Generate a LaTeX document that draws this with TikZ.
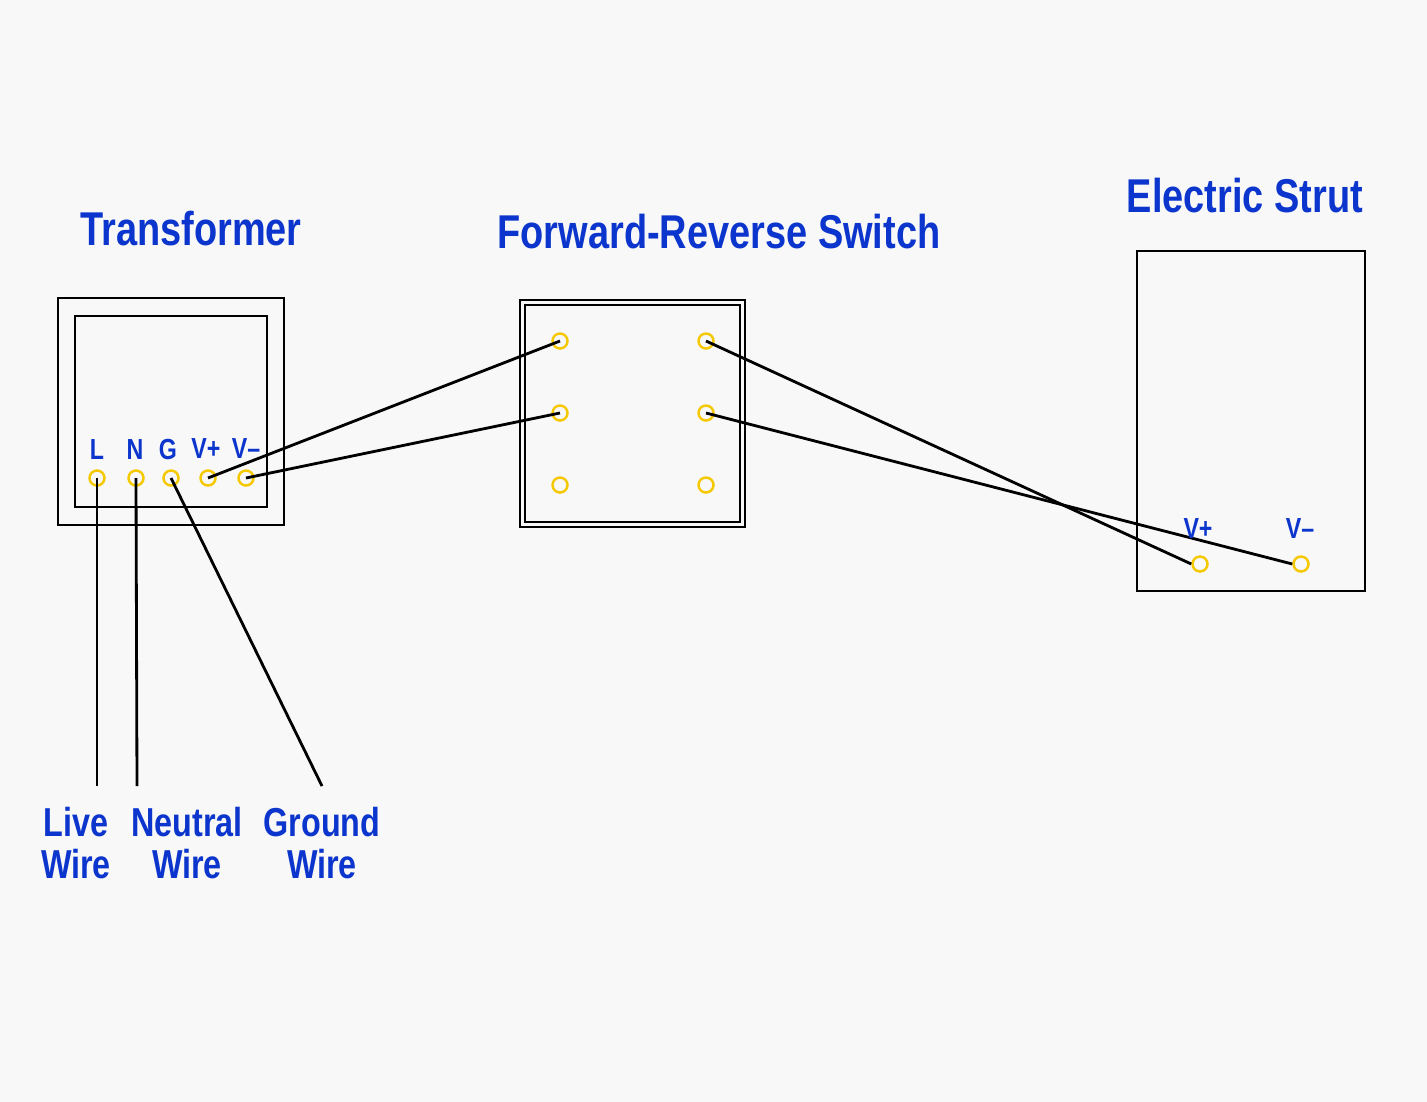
\documentclass[tikz,border=0pt]{standalone}
\usepackage{fontspec}
\setmainfont[FakeStretch=0.8]{Liberation Sans}
\usetikzlibrary{positioning}
\definecolor{wirelabel}{HTML}{0B35CC}
\definecolor{terminal}{HTML}{F5C800}
\definecolor{paper}{HTML}{F8F8F8}

\begin{document}
\begin{tikzpicture}[
    x=0.02cm, y=-0.02cm,
    box/.style={rectangle, draw=black, line width=1.4pt, inner sep=0pt, outer sep=0pt, minimum width=#1},
    term/.style={circle, draw=terminal, line width=1.4pt, minimum size=0.3cm, inner sep=0pt},
    wire/.style={draw=black, line width=1.6pt},
    title/.style={font=\fontsize{27}{30}\selectfont\bfseries, color=wirelabel},
    tag/.style={font=\fontsize{16.5}{18}\selectfont\bfseries, color=wirelabel, inner sep=0pt},
    lead/.style={font=\fontsize{23}{24.4}\selectfont\bfseries, color=wirelabel, align=center, inner sep=0pt}
]
\useasboundingbox[fill=paper] (0,0) rectangle (1427,1102);

% Transformer
\node[box=4.52cm, minimum height=4.54cm] (xfmrouter) at (171,411.5) {};
\node[box=3.84cm, minimum height=3.82cm] (xfmrinner) at (171,411.5) {};
\node[title] (xfmrtitle) at (191,229) {Transformer};
\node[term] (xl) at (97,478) {};
\node[term] (xn) at (136,478) {};
\node[term] (xg) at (171,478) {};
\node[term] (xvp) at (208,478) {};
\node[term] (xvm) at (246,478) {};
\node[tag] (taglx) at (97,450) {L};
\node[tag] (tagnx) at (135,450) {N};
\node[tag] (taggx) at (168,450) {G};
\node[tag] (tagvpx) at (206,449) {V+};
\node[tag] (tagvmx) at (246,449) {V–};

% Forward-Reverse Switch
\node[box=4.5cm, minimum height=4.54cm] (swouter) at (632.5,413.5) {};
\node[box=4.3cm, minimum height=4.34cm] (swinner) at (632.5,413.5) {};
\node[title] (swtitle) at (719,232) {Forward-Reverse Switch};
\node[term] (sa) at (560,341) {};
\node[term] (sb) at (560,413) {};
\node[term] (sc) at (560,485) {};
\node[term] (sd) at (706,341) {};
\node[term] (se) at (706,413) {};
\node[term] (sf) at (706,485) {};

% Electric Strut
\node[box=4.56cm, minimum height=6.8cm] (strut) at (1251,421) {};
\node[title] (struttitle) at (1245,196) {Electric Strut};
\node[term] (svp) at (1200,564) {};
\node[term] (svm) at (1301,564) {};

% Mains leads
\coordinate (liveend) at (97,786);
\coordinate (neutralend) at (137,786);
\coordinate (groundend) at (322,786);
\draw[wire] (xl.center) -- (liveend);
\draw[wire] (xn.center) -- (neutralend);
\draw[wire] (xg.center) -- (groundend);
\node[lead] (livelabel) at (76,843) {Live\\Wire};
\node[lead] (neutrallabel) at (187,843) {Neutral\\Wire};
\node[lead] (groundlabel) at (322,843) {Ground\\Wire};

% Links
\draw[wire] (xvp.center) -- (sa.center);
\draw[wire] (xvm.center) -- (sb.center);
\draw[wire] (sd.center) -- (svp.west);
\draw[wire] (se.center) -- (svm.west);

% Strut labels sit over the link
\node[tag] (tagvps) at (1198,529) {V+};
\node[tag] (tagvms) at (1300,529) {V–};

\end{tikzpicture}
\end{document}
